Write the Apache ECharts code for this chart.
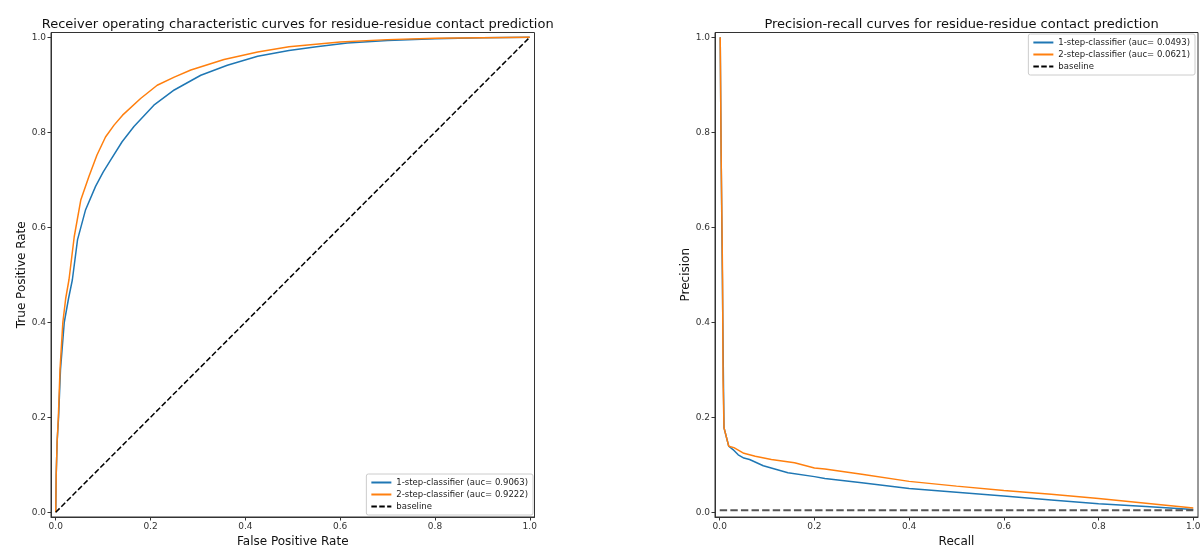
<!DOCTYPE html>
<html>
<head>
<meta charset="utf-8">
<script src="https://cdn.jsdelivr.net/npm/echarts@6/dist/echarts.min.js"></script>
<style>
  html, body { margin: 0; padding: 0; background: #fff; }
  #content { width: 1201px; height: 548px; }
</style>
</head>
<body>
<div id="content"></div>
<script>
// ROC curves (false positive rate, true positive rate)
var roc1Fpr = [0, 0.001, 0.003, 0.006, 0.010, 0.018, 0.027, 0.035, 0.046, 0.063, 0.084, 0.100, 0.116, 0.140, 0.165, 0.207, 0.250, 0.306, 0.362, 0.426, 0.492, 0.55, 0.615, 0.7, 0.8, 0.9, 1.0];
var roc1Tpr = [0, 0.08, 0.15, 0.2, 0.3, 0.4, 0.45, 0.489, 0.574, 0.637, 0.686, 0.716, 0.742, 0.780, 0.812, 0.857, 0.889, 0.920, 0.941, 0.960, 0.972, 0.980, 0.988, 0.993, 0.997, 0.999, 1.0];
var roc2Fpr = [0, 0.001, 0.003, 0.0055, 0.009, 0.015, 0.021, 0.028, 0.039, 0.053, 0.070, 0.087, 0.105, 0.123, 0.141, 0.179, 0.214, 0.250, 0.285, 0.355, 0.426, 0.492, 0.6, 0.7, 0.8, 0.9, 1.0];
var roc2Tpr = [0, 0.08, 0.15, 0.2, 0.3, 0.4, 0.45, 0.49, 0.58, 0.658, 0.707, 0.752, 0.79, 0.815, 0.836, 0.871, 0.899, 0.916, 0.931, 0.953, 0.969, 0.980, 0.990, 0.995, 0.998, 0.999, 1.0];
var rocBase = [[0, 0], [1, 1]];

// precision-recall curves (recall, precision)
var pr1Rec = [0.001, 0.003, 0.006, 0.008, 0.009, 0.019, 0.028, 0.039, 0.051, 0.063, 0.092, 0.144, 0.2, 0.222, 0.3, 0.4, 0.5, 0.6, 0.7, 0.8, 0.9, 1.0];
var pr1Pre = [1.0, 0.75, 0.45, 0.26, 0.178, 0.139, 0.132, 0.121, 0.114, 0.111, 0.098, 0.083, 0.075, 0.071, 0.062, 0.050, 0.042, 0.034, 0.026, 0.018, 0.012, 0.006];
var pr2Rec = [0.001, 0.003, 0.006, 0.007, 0.009, 0.019, 0.030, 0.051, 0.075, 0.109, 0.158, 0.2, 0.222, 0.3, 0.4, 0.5, 0.6, 0.7, 0.8, 0.9, 1.0];
var pr2Pre = [1.0, 0.75, 0.49, 0.28, 0.178, 0.139, 0.136, 0.124, 0.118, 0.111, 0.104, 0.093, 0.091, 0.080, 0.065, 0.055, 0.046, 0.038, 0.029, 0.019, 0.009];
var prBase = [[0, 0.004], [1, 0.004]];

var tickValues = [0, 0.2, 0.4, 0.6, 0.8, 1.0];
var rocNames = ['1-step-classifier (auc= 0.9063)', '2-step-classifier (auc= 0.9222)', 'baseline'];
var prNames = ['1-step-classifier (auc= 0.0493)', '2-step-classifier (auc= 0.0621)', 'baseline'];

function zip(a, b) {
  var out = [];
  for (var i = 0; i < a.length; i++) out.push([a[i], b[i]]);
  return out;
}

var font = 'DejaVu Sans';
function makeAxis(gridIndex, name, isY) {
  return {
    type: 'value',
    gridIndex: gridIndex,
    min: -0.01,
    max: 1.01,
    name: name,
    nameLocation: 'middle',
    nameGap: isY ? 20 : 16,
    nameTextStyle: { fontFamily: font, fontSize: 12, color: '#111' },
    axisLine: { show: true, onZero: false, lineStyle: { color: '#333', width: 1 } },
    axisTick: { show: true, inside: false, length: 3.5, customValues: tickValues, lineStyle: { color: '#333' } },
    axisLabel: {
      customValues: tickValues, fontFamily: font, fontSize: 9, color: '#333', margin: 5,
      formatter: function (v) { return v.toFixed(1); }
    },
    splitLine: { show: false }
  };
}

function makeLegend(names, pos) {
  var lg = {
    data: names,
    orient: 'vertical',
    itemWidth: 20, itemHeight: 9.5, itemGap: 3,
    padding: [4, 5, 4, 4],
    borderColor: '#ccc', borderWidth: 1, borderRadius: 2,
    backgroundColor: 'rgba(255,255,255,0.8)',
    itemStyle: { opacity: 0 },
    textStyle: { fontFamily: font, fontSize: 8.5, color: '#222' }
  };
  for (var k in pos) lg[k] = pos[k];
  return lg;
}

var chart = echarts.init(document.getElementById('content'), null, { renderer: 'canvas' });

chart.setOption({
  animation: false,
  backgroundColor: '#fff',
  title: [{
    text: 'Receiver operating characteristic curves for residue-residue contact prediction',
    left: 292.7, top: 13, textAlign: 'center',
    textStyle: { fontFamily: font, fontSize: 13, fontWeight: 'normal', color: '#111' }
  }, {
    text: 'Precision-recall curves for residue-residue contact prediction',
    left: 956.5, top: 13, textAlign: 'center',
    textStyle: { fontFamily: font, fontSize: 13, fontWeight: 'normal', color: '#111' }
  }],
  grid: [
    { left: 51, top: 32.5, width: 483.5, height: 484.5, outerBoundsMode: 'none', containLabel: false,
      show: true, borderColor: '#333', borderWidth: 1, backgroundColor: 'transparent' },
    { left: 715, top: 32.5, width: 483, height: 484.5, outerBoundsMode: 'none', containLabel: false,
      show: true, borderColor: '#333', borderWidth: 1, backgroundColor: 'transparent' }
  ],
  xAxis: [makeAxis(0, 'False Positive Rate', false), makeAxis(1, 'Recall', false)],
  yAxis: [makeAxis(0, 'True Positive Rate', true), makeAxis(1, 'Precision', true)],
  legend: [
    makeLegend(rocNames, { right: 668, bottom: 33 }),
    makeLegend(prNames, { right: 6, top: 34 })
  ],
  series: [
    { name: rocNames[0], type: 'line', xAxisIndex: 0, yAxisIndex: 0, data: zip(roc1Fpr, roc1Tpr), symbol: 'none',
      lineStyle: { color: '#1f77b4', width: 1.5 }, itemStyle: { color: '#1f77b4' } },
    { name: rocNames[1], type: 'line', xAxisIndex: 0, yAxisIndex: 0, data: zip(roc2Fpr, roc2Tpr), symbol: 'none',
      lineStyle: { color: '#ff7f0e', width: 1.5 }, itemStyle: { color: '#ff7f0e' } },
    { name: rocNames[2], type: 'line', xAxisIndex: 0, yAxisIndex: 0, data: rocBase, symbol: 'none',
      lineStyle: { color: '#000', width: 1.5, type: [5.5, 2.4] }, itemStyle: { color: '#000' } },
    { name: prNames[0], type: 'line', xAxisIndex: 1, yAxisIndex: 1, data: zip(pr1Rec, pr1Pre), symbol: 'none',
      lineStyle: { color: '#1f77b4', width: 1.5 }, itemStyle: { color: '#1f77b4' } },
    { name: prNames[1], type: 'line', xAxisIndex: 1, yAxisIndex: 1, data: zip(pr2Rec, pr2Pre), symbol: 'none',
      lineStyle: { color: '#ff7f0e', width: 1.5 }, itemStyle: { color: '#ff7f0e' } },
    { name: prNames[2], type: 'line', xAxisIndex: 1, yAxisIndex: 1, data: prBase, symbol: 'none',
      lineStyle: { color: '#555', width: 2, type: [7.4, 3.2] }, itemStyle: { color: '#000' } }
  ]
});
</script>
</body>
</html>
